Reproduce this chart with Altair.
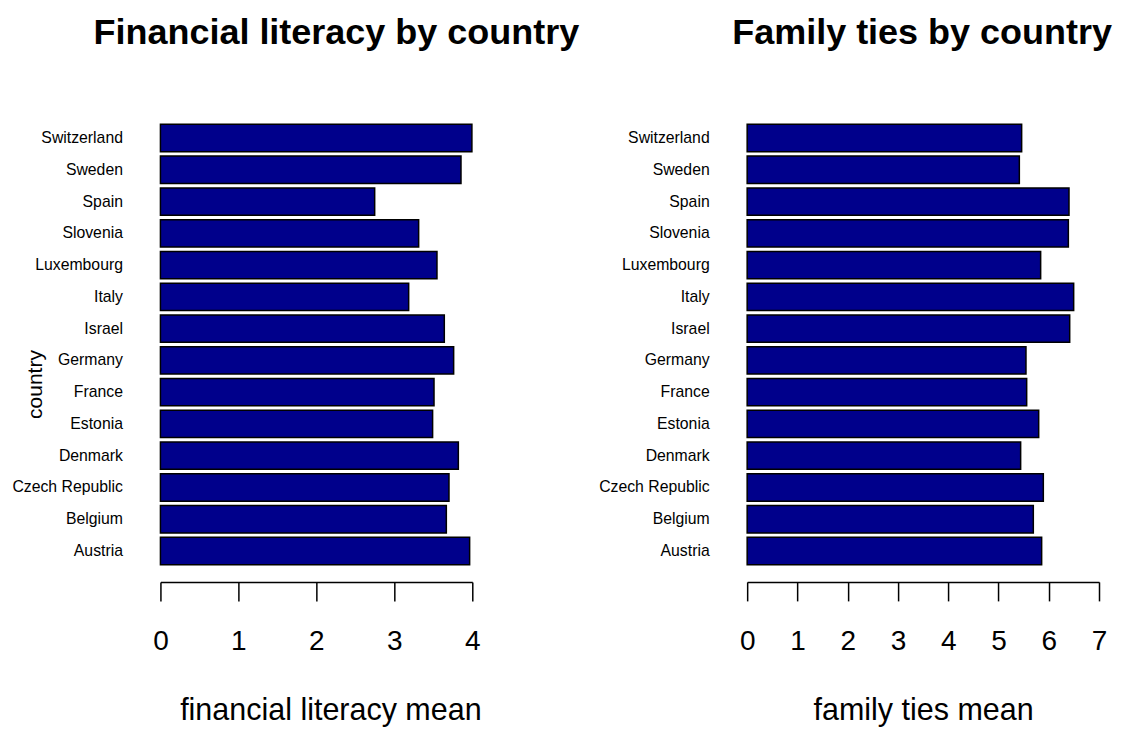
import altair as alt
import pandas as pd

countries = ["Austria", "Belgium", "Czech Republic", "Denmark", "Estonia", "France",
             "Germany", "Israel", "Italy", "Luxembourg", "Slovenia", "Spain",
             "Sweden", "Switzerland"]
fin_lit = [3.966, 3.667, 3.701, 3.821, 3.491, 3.509, 3.761, 3.641, 3.184, 3.547,
           3.312, 2.748, 3.855, 3.995]
fam_ties = [5.859, 5.693, 5.892, 5.441, 5.800, 5.561, 5.547, 6.417, 6.496, 5.839,
            6.390, 6.403, 5.415, 5.461]
fin_ticks = [0, 1, 2, 3, 4]
fam_ticks = [0, 1, 2, 3, 4, 5, 6, 7]

df = pd.DataFrame({"country": countries, "fin": fin_lit, "fam": fam_ties})
order = list(reversed(countries))
FONT = "Liberation Sans"


def panel(field, title, xtitle, ticks, width, ytitle, title_dx, xtitle_dx):
    yaxis = dict(domain=False, ticks=False, tickSize=0, labelPadding=38,
                 labelFontSize=15.8, labelFont=FONT, labelColor="black")
    if ytitle:
        yaxis.update(title=ytitle, titleFontSize=21, titleFont=FONT,
                     titleFontWeight="normal", titleColor="black",
                     titleX=-119, titleY=262, titleBaseline="alphabetic")
        y = alt.Y("country:N", sort=order,
                  scale=alt.Scale(paddingInner=0.14, paddingOuter=0.07),
                  axis=alt.Axis(**yaxis))
    else:
        y = alt.Y("country:N", sort=order, title=None,
                  scale=alt.Scale(paddingInner=0.14, paddingOuter=0.07),
                  axis=alt.Axis(**yaxis))
    return alt.Chart(df).mark_bar(color="#00008B", stroke="black", strokeWidth=1.5).encode(
        x=alt.X(f"{field}:Q",
                scale=alt.Scale(domain=[ticks[0], ticks[-1]], nice=False),
                axis=alt.Axis(values=ticks, title=xtitle, offset=15, tickSize=19,
                              tickWidth=1.5, tickColor="black", domainColor="black",
                              domainWidth=1.5, grid=False, labelFontSize=28,
                              labelFont=FONT, labelColor="black", labelPadding=27,
                              labelFlush=False,
                              titleFontSize=30.5, titleFont=FONT, titleFontWeight="normal",
                              titleColor="black", titlePadding=40,
                              titleX=width / 2 + xtitle_dx)),
        y=y,
    ).properties(
        width=width, height=445,
        title=alt.TitleParams(title, fontSize=36, font=FONT, fontWeight="bold",
                              color="black", anchor="middle", offset=70, dx=title_dx),
    )


left = panel("fin", "Financial literacy by country", "financial literacy mean",
             fin_ticks, 312, "country", 20, 14)
right = panel("fam", "Family ties by country", "family ties mean",
              fam_ticks, 352, None, -1, 0)

chart = alt.hconcat(left, right, spacing=275, bounds="flush").properties(
    padding={"left": 3.5, "top": 7, "right": 0, "bottom": 0},
    background="white",
).configure_view(strokeWidth=0, stroke="transparent")

chart.save("out.html", embed_options={"renderer": "svg", "actions": False})
